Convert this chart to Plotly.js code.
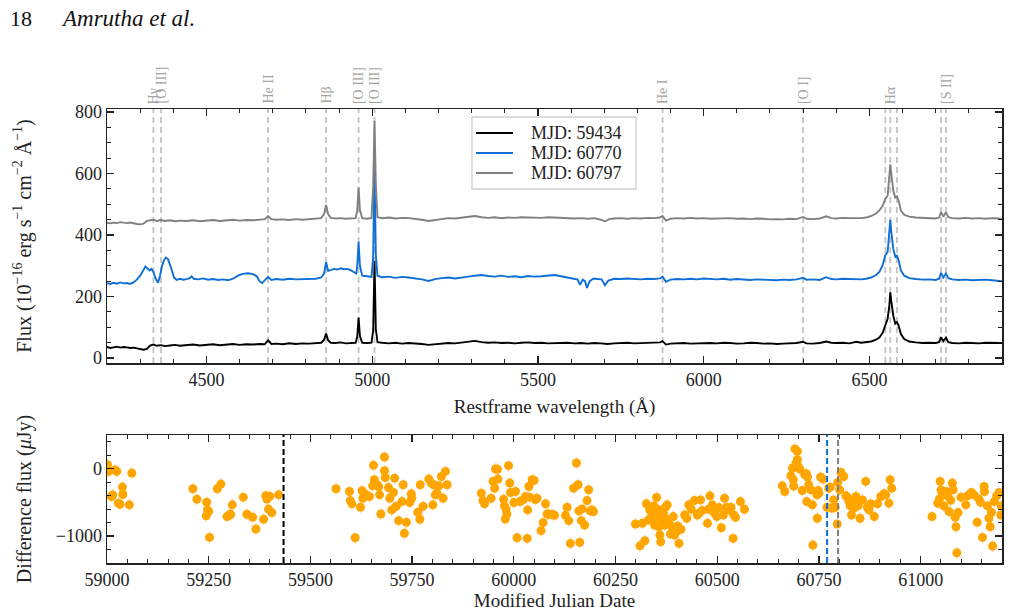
<!DOCTYPE html>
<html>
<head>
<meta charset="utf-8">
<script src="https://cdn.plot.ly/plotly-3.0.1.min.js"></script>
<style>
  html, body { margin: 0; padding: 0; background: #fff; }
  #chart { width: 1010px; height: 615px; }
</style>
</head>
<body>
<div id="chart"></div>
<script>
// ---- Spectra: [restframe wavelength (Å), flux (1e-16 erg/s/cm^2/Å)] ----
const spec59434 = [
  [4200,36],[4210,33],[4220,35],[4230,37],[4240,34],[4250,36],[4260,35],[4270,33],[4280,34],[4290,31],
  [4300,29],[4310,27],[4320,30],[4330,41],[4340,44],[4350,40],[4363,42],[4375,39],[4390,41],[4405,43],
  [4420,40],[4440,42],[4460,44],[4480,41],[4500,43],[4520,45],[4540,42],[4560,44],[4580,46],[4600,43],
  [4620,45],[4640,44],[4660,46],[4676,45],[4686,58],[4696,46],[4710,47],[4730,45],[4750,48],[4770,46],
  [4790,48],[4810,47],[4830,49],[4846,50],[4855,60],[4861,80],[4867,58],[4875,50],[4890,49],[4905,51],
  [4920,48],[4935,50],[4950,50],[4955,70],[4959,132],[4963,72],[4970,50],[4985,49],[4998,50],[5003,90],
  [5007,316],[5011,95],[5016,52],[5030,50],[5050,48],[5070,50],[5090,47],[5110,49],[5130,48],[5150,46],
  [5170,43],[5190,45],[5210,47],[5230,49],[5250,48],[5270,51],[5290,54],[5310,56],[5330,52],[5350,50],
  [5370,51],[5390,49],[5410,50],[5430,48],[5450,50],[5470,51],[5490,49],[5510,50],[5530,48],[5550,49],
  [5570,51],[5590,50],[5610,48],[5630,49],[5650,47],[5670,49],[5690,48],[5710,46],[5730,48],[5750,49],
  [5770,50],[5790,48],[5810,49],[5830,50],[5850,49],[5868,51],[5876,55],[5886,44],[5900,47],[5920,48],
  [5940,49],[5960,47],[5980,48],[6000,50],[6020,49],[6040,48],[6060,50],[6080,49],[6100,47],[6120,48],
  [6140,50],[6160,49],[6180,47],[6200,48],[6220,46],[6240,47],[6260,48],[6280,49],[6300,53],[6310,48],
  [6330,47],[6350,49],[6370,54],[6385,50],[6400,49],[6420,50],[6440,48],[6460,53],[6475,50],[6490,51],
  [6505,54],[6520,60],[6530,67],[6540,82],[6548,110],[6555,128],[6560,170],[6563,214],[6566,185],[6572,138],
  [6578,112],[6583,117],[6588,106],[6595,78],[6605,62],[6620,54],[6640,51],[6660,49],[6680,50],[6700,49],
  [6710,52],[6716,68],[6723,55],[6731,67],[6738,52],[6750,49],[6770,48],[6790,50],[6810,49],[6830,48],
  [6850,50],[6870,49],[6890,48],[6900,49]
];

const spec60770 = [
  [4200,244],[4210,241],[4220,245],[4230,242],[4240,246],[4250,243],[4260,244],[4270,241],[4280,246],[4290,255],
  [4300,268],[4310,290],[4316,298],[4322,292],[4328,285],[4334,290],[4340,280],[4347,258],[4354,245],[4360,268],
  [4366,300],[4372,318],[4378,327],[4384,322],[4390,305],[4396,285],[4402,262],[4410,254],[4420,258],[4430,255],
  [4440,257],[4450,260],[4455,266],[4462,258],[4475,256],[4490,259],[4505,255],[4520,257],[4535,254],[4550,256],
  [4565,253],[4580,258],[4595,268],[4610,274],[4625,276],[4640,273],[4652,266],[4660,250],[4668,244],[4676,252],
  [4686,264],[4696,254],[4710,257],[4730,255],[4750,258],[4770,256],[4790,257],[4810,259],[4830,258],[4846,262],
  [4855,275],[4861,312],[4867,284],[4875,286],[4885,290],[4895,288],[4905,292],[4915,289],[4925,290],[4935,286],
  [4945,280],[4952,275],[4955,300],[4959,378],[4963,300],[4970,268],[4985,266],[4998,264],[5003,330],[5007,628],
  [5011,335],[5016,268],[5030,263],[5050,265],[5070,261],[5090,264],[5110,262],[5130,260],[5150,256],[5170,251],
  [5190,257],[5210,260],[5230,262],[5250,259],[5270,263],[5290,265],[5310,268],[5330,270],[5350,267],[5370,265],
  [5390,268],[5410,264],[5430,266],[5450,263],[5470,267],[5490,265],[5510,266],[5530,268],[5550,270],[5570,266],
  [5590,262],[5610,259],[5620,255],[5627,238],[5635,255],[5642,250],[5648,228],[5656,250],[5668,259],[5680,257],
  [5692,256],[5702,237],[5712,252],[5730,258],[5750,257],[5770,259],[5790,258],[5810,256],[5830,258],[5850,257],
  [5868,259],[5876,265],[5886,248],[5900,255],[5920,257],[5940,256],[5960,258],[5980,256],[6000,259],[6020,257],
  [6040,256],[6060,258],[6080,255],[6100,257],[6120,256],[6140,254],[6160,256],[6180,255],[6200,254],[6220,253],
  [6240,255],[6260,254],[6280,256],[6300,261],[6310,255],[6330,256],[6350,254],[6370,263],[6385,257],[6400,256],
  [6420,258],[6440,257],[6460,255],[6475,256],[6490,258],[6505,262],[6520,270],[6530,280],[6540,302],[6548,335],
  [6555,345],[6560,400],[6563,450],[6566,410],[6572,355],[6578,330],[6583,333],[6588,318],[6595,285],[6605,268],
  [6620,260],[6640,257],[6660,255],[6680,256],[6700,254],[6710,258],[6716,277],[6723,262],[6731,275],[6738,260],
  [6750,256],[6770,254],[6790,255],[6810,253],[6830,254],[6850,255],[6870,253],[6890,252],[6900,250]
];

const spec60797 = [
  [4200,440],[4210,438],[4220,441],[4230,439],[4240,442],[4250,440],[4260,439],[4270,441],[4280,438],[4290,436],
  [4300,435],[4310,437],[4320,446],[4330,448],[4340,450],[4350,446],[4363,449],[4375,446],[4390,448],[4405,445],
  [4420,447],[4440,446],[4460,448],[4480,445],[4500,447],[4520,449],[4540,446],[4560,448],[4580,450],[4600,447],
  [4620,449],[4640,448],[4660,450],[4676,452],[4686,462],[4696,452],[4710,450],[4730,451],[4750,449],[4770,452],
  [4790,450],[4810,451],[4830,452],[4846,455],[4855,468],[4861,498],[4867,468],[4875,456],[4890,454],[4905,455],
  [4920,453],[4935,454],[4950,455],[4955,480],[4959,555],[4963,482],[4970,455],[4985,453],[4998,456],[5003,560],
  [5007,772],[5011,565],[5016,458],[5030,455],[5050,457],[5070,454],[5090,456],[5110,455],[5130,453],[5150,450],
  [5170,446],[5190,449],[5210,452],[5230,455],[5250,454],[5270,457],[5290,460],[5310,462],[5330,458],[5350,456],
  [5370,458],[5390,455],[5410,457],[5430,456],[5450,458],[5470,457],[5490,455],[5510,456],[5530,458],[5550,457],
  [5570,455],[5590,456],[5610,454],[5630,455],[5650,453],[5670,455],[5690,450],[5702,444],[5715,452],[5730,454],
  [5750,455],[5770,453],[5790,455],[5810,454],[5830,456],[5850,455],[5868,457],[5876,462],[5886,447],[5900,453],
  [5920,455],[5940,454],[5960,456],[5980,454],[6000,455],[6020,453],[6040,454],[6060,456],[6080,455],[6100,453],
  [6120,454],[6140,452],[6160,454],[6180,453],[6200,451],[6220,452],[6240,451],[6260,453],[6280,452],[6300,459],
  [6310,453],[6330,452],[6350,454],[6370,461],[6385,455],[6400,454],[6420,456],[6440,455],[6460,454],[6475,455],
  [6490,457],[6505,462],[6520,470],[6530,480],[6540,495],[6548,518],[6555,528],[6560,585],[6563,630],[6566,600],
  [6572,545],[6578,522],[6583,526],[6588,512],[6595,480],[6605,466],[6620,460],[6640,457],[6660,456],[6680,455],
  [6700,454],[6710,457],[6716,475],[6723,460],[6731,474],[6738,458],[6750,455],[6770,454],[6790,456],[6810,454],
  [6830,455],[6850,453],[6870,455],[6890,454],[6900,452]
];

const spectrumLabels = ['MJD: 59434', 'MJD: 60770', 'MJD: 60797'];
const spectrumColors = ['#000000', '#0f6fd6', '#808080'];

// ---- Emission line markers: [wavelength, label] ----
const lineMarks = [
  [4340, 'Hγ'], [4363, '[O III]'], [4686, 'He II'], [4861, 'Hβ'],
  [4959, '[O III]'], [5007, '[O III]'], [5876, 'He I'], [6300, '[O I]'],
  [6548, ''], [6563, 'Hα'], [6583, ''], [6716, ''], [6731, '[S II]']
];

// ---- Light curve: [MJD, difference flux (µJy)] ----
const lightCurve = [
  [59001,60],[59002,-10],[59004,-40],[59011,-413],[59014,-390],[59020,-20],[59024,-40],[59028,-512],[59032,-527],
  [59038,-273],[59039,-383],[59055,-537],[59061,-65],
  [59211,-298],[59221,-453],[59244,-700],[59245,-497],[59247,-612],[59250,-637],[59252,-1020],[59271,-298],
  [59280,-229],[59295,-711],[59301,-687],[59304,-677],[59308,-537],[59335,-423],[59344,-677],[59358,-721],
  [59366,-896],[59385,-751],[59390,-403],[59393,-450],[59397,-600],[59400,-410],[59405,-652],[59422,-388],
  [59563,-298],[59596,-338],[59598,-473],[59602,-522],[59610,-1025],[59623,-572],[59627,-328],[59629,-438],
  [59635,-378],[59645,-413],[59655,50],[59657,-164],[59653,-254],[59664,-239],[59668,-269],[59670,-388],
  [59673,-672],[59682,174],[59682,-30],[59684,-130],[59692,-280],[59695,-438],[59700,-612],[59704,-353],
  [59707,-140],[59711,-557],[59717,-771],[59725,-488],[59728,-239],[59731,-960],[59736,-796],[59744,-503],
  [59748,-373],[59749,-438],[59764,-647],[59769,-751],[59770,-239],[59777,-557],[59791,-154],[59797,-214],
  [59801,-537],[59803,-239],[59807,-388],[59811,-363],[59816,-254],[59822,-115],[59826,-438],[59832,-40],
  [59836,-239],
  [59920,-363],[59924,-473],[59928,-522],[59944,-438],[59949,-189],[59953,-289],[59955,-5],[59960,-10],
  [59961,-154],[59975,-453],[59977,-552],[59979,-746],[59981,-602],[59983,-677],[59987,45],[59990,-214],
  [59992,-353],[60000,-503],[60004,-338],[60008,-1025],[60015,-488],[60023,-463],[60029,-413],[60033,-1035],
  [60034,-612],[60037,-264],[60039,-423],[60045,-164],[60050,-174],[60053,-458],[60057,-438],[60067,-920],
  [60072,-801],[60078,-522],[60082,-672],[60086,-677],[60094,-677],[60100,-692],[60127,-692],[60131,-572],
  [60135,-771],[60139,-1109],[60147,-289],[60154,85],[60158,-239],[60160,-627],[60162,-1094],[60166,-771],
  [60168,-597],[60174,-836],[60180,-473],[60184,-313],[60188,-627],[60192,-612],[60196,-637],
  [60299,-821],[60310,-1145],[60316,-811],[60322,-1070],[60326,-522],[60331,-761],[60334,-612],[60339,-687],
  [60342,-761],[60344,-552],[60346,-836],[60351,-428],[60353,-602],[60355,-711],[60357,-861],[60359,-985],
  [60361,-1085],[60364,-761],[60365,-612],[60368,-672],[60371,-836],[60373,-572],[60376,-751],[60377,-537],
  [60381,-811],[60385,-970],[60389,-861],[60392,-711],[60395,-985],[60400,-935],[60403,-851],[60406,-1109],
  [60411,-900],[60420,-687],[60425,-736],[60430,-537],[60436,-602],[60444,-473],[60451,-687],[60455,-662],
  [60459,-463],[60463,-622],[60476,-811],[60478,-602],[60482,-403],[60488,-537],[60492,-652],[60499,-711],
  [60504,-577],[60510,-876],[60515,-687],[60518,-438],[60523,-572],[60529,-612],[60534,-572],[60539,-1035],
  [60541,-687],[60545,-721],[60557,-488],[60567,-602],
  [60660,-254],[60666,-338],[60681,-104],[60685,10],[60687,-164],[60688,-259],[60691,294],[60694,84],
  [60697,259],[60697,134],[60699,35],[60703,-5],[60709,-323],[60715,-87],[60719,-74],[60720,-488],
  [60722,-125],[60725,-239],[60730,-313],[60734,-537],[60735,-1134],[60745,-388],[60746,-736],[60748,-323],
  [60750,-363],[60754,-125],[60760,-154],[60770,-572],[60774,-289],[60778,-274],[60782,-587],[60786,-463],
  [60790,-572],[60795,-821],[60796,-204],[60801,-313],[60804,-55],[60811,-115],[60816,-403],[60820,-423],
  [60824,-488],[60827,-552],[60830,-687],[60835,-587],[60841,-413],[60843,-473],[60846,-552],[60851,-736],
  [60857,-463],[60865,-189],[60869,-572],[60873,-612],[60877,-522],[60886,-711],[60894,-522],[60902,-413],
  [60910,-373],[60914,-388],[60922,-512],[60925,-164],[60929,-289],
  [61028,-711],[61042,-512],[61046,-448],[61048,-189],[61050,-318],[61054,-388],[61057,-552],[61062,-338],
  [61066,-403],[61070,-637],[61074,-468],[61078,-214],[61080,-313],[61085,-721],[61087,-861],[61089,-1249],
  [61092,-652],[61099,-423],[61111,-537],[61115,-403],[61125,-353],[61131,-388],[61139,-796],[61143,-448],
  [61147,-498],[61152,-1020],[61156,-264],[61157,-338],[61164,-552],[61168,-736],[61171,-861],[61174,-647],
  [61177,-1149],[61181,-488],[61187,-403],[61193,-353],[61197,-687],[61198,-552]
];

// Epochs of the three spectra, marked on the light curve
const spectrumEpochs = [59434, 60770, 60797];

const SERIF = '"Liberation Serif", "Times New Roman", serif';
const lineGray = '#c4c4c4';
const labelGray = '#a3a3a3';

const traces = [];
[spec59434, spec60770, spec60797].forEach((s, i) => {
  traces.push({
    type: 'scatter', mode: 'lines',
    x: s.map(p => p[0]), y: s.map(p => p[1]),
    name: spectrumLabels[i],
    line: { color: spectrumColors[i], width: 1.9 },
    showlegend: false,
    xaxis: 'x', yaxis: 'y'
  });
});
traces.push({
  type: 'scatter', mode: 'markers',
  x: lightCurve.map(p => p[0]), y: lightCurve.map(p => p[1]),
  marker: { color: '#ffa500', size: 9, line: { width: 0 } },
  error_y: { type: 'constant', value: 90, color: 'rgba(255,165,0,0.35)', thickness: 1.5, width: 0 },
  showlegend: false,
  xaxis: 'x2', yaxis: 'y2'
});

const shapes = [];
const annotations = [];
lineMarks.forEach(([wl, label]) => {
  shapes.push({
    type: 'line', xref: 'x', yref: 'y domain', x0: wl, x1: wl, y0: 0, y1: 1,
    line: { color: lineGray, width: 1.8, dash: '6px,4px' }, layer: 'below'
  });
  if (label) {
    annotations.push({
      x: wl, xref: 'x', y: 1, yref: 'paper', yanchor: 'bottom', xanchor: 'center',
      yshift: 3, textangle: -90, showarrow: false, text: label,
      font: { family: SERIF, size: 14, color: labelGray }
    });
  }
});
const epochColors = ['#000000', '#0f6fd6', '#808080'];
spectrumEpochs.forEach((mjd, i) => {
  shapes.push({
    type: 'line', xref: 'x2', yref: 'y2 domain', x0: mjd, x1: mjd, y0: 0, y1: 1,
    line: { color: epochColors[i], width: 2, dash: '6px,3px' }, layer: 'above'
  });
});

// Legend box for the spectra (paper coordinates of the plotting area)
const legendBox = { x0: 0.4078, x1: 0.5911, y0: 0.8238, y1: 0.9824 };
const legendRows = [0.9471, 0.9031, 0.8590];
shapes.push({
  type: 'rect', xref: 'paper', yref: 'paper',
  x0: legendBox.x0, x1: legendBox.x1, y0: legendBox.y0, y1: legendBox.y1,
  line: { color: '#d0d0d0', width: 1.3 }, fillcolor: 'rgba(255,255,255,0.9)', layer: 'above'
});
spectrumLabels.forEach((lab, i) => {
  shapes.push({
    type: 'line', xref: 'paper', yref: 'paper',
    x0: 0.4123, x1: 0.4536, y0: legendRows[i], y1: legendRows[i],
    line: { color: spectrumColors[i], width: 2 }, layer: 'above'
  });
  annotations.push({
    x: 0.4715, y: legendRows[i], xref: 'paper', yref: 'paper', xanchor: 'left', yanchor: 'middle',
    showarrow: false, text: lab, font: { family: SERIF, size: 18, color: '#222' }
  });
});

annotations.push(
  { x: -0.1106, y: 1.2, xref: 'paper', yref: 'paper', xanchor: 'left', yanchor: 'middle',
    showarrow: false, text: '18', font: { family: SERIF, size: 22, color: '#111' } },
  { x: -0.0536, y: 1.2, xref: 'paper', yref: 'paper', xanchor: 'left', yanchor: 'middle',
    showarrow: false, text: '<i>Amrutha et al.</i>', font: { family: SERIF, size: 23, color: '#111' } }
);

const axisCommon = {
  showline: true, linecolor: '#222', linewidth: 1.5, mirror: 'allticks',
  ticks: 'inside', ticklen: 7, tickwidth: 1.3, tickcolor: '#222',
  showgrid: false, zeroline: false,
  tickfont: { family: SERIF, size: 18, color: '#222' },
  minor: { ticks: 'inside', ticklen: 4, tickwidth: 1, tickcolor: '#222', showgrid: false }
};

const layout = {
  width: 1010, height: 615,
  margin: { l: 107, r: 8, t: 109, b: 52 },
  paper_bgcolor: '#fff', plot_bgcolor: '#fff',
  font: { family: SERIF, color: '#222' },
  showlegend: false,
  xaxis: Object.assign({}, axisCommon, {
    domain: [0, 1], anchor: 'y', range: [4200, 6900], tick0: 0, dtick: 500,
    minor: Object.assign({}, axisCommon.minor, { dtick: 100 }),
    title: { text: 'Restframe wavelength (Å)', font: { family: SERIF, size: 19 }, standoff: 10 }
  }),
  yaxis: Object.assign({}, axisCommon, {
    domain: [0.4405, 1], anchor: 'x', range: [-16, 810], tick0: 0, dtick: 200,
    minor: Object.assign({}, axisCommon.minor, { dtick: 50 }),
    title: { text: 'Flux (10<sup>−16</sup> erg s<sup>−1</sup> cm<sup>−2</sup> Å<sup>−1</sup>)',
             font: { family: SERIF, size: 20 }, standoff: 38 }
  }),
  xaxis2: Object.assign({}, axisCommon, {
    domain: [0, 1], anchor: 'y2', range: [59000, 61200], tick0: 59000, dtick: 250,
    tickformat: 'd',
    minor: Object.assign({}, axisCommon.minor, { dtick: 50 }),
    title: { text: 'Modified Julian Date', font: { family: SERIF, size: 19 }, standoff: 4 }
  }),
  yaxis2: Object.assign({}, axisCommon, {
    domain: [0, 0.2819], anchor: 'x2', range: [-1400, 500], tick0: 0, dtick: 1000,
    minor: Object.assign({}, axisCommon.minor, { dtick: 200 }),
    title: { text: 'Difference flux (<i>μ</i>Jy)', font: { family: SERIF, size: 20 }, standoff: 18 }
  }),
  shapes: shapes,
  annotations: annotations
};

Plotly.newPlot('chart', traces, layout, { displayModeBar: false, staticPlot: true });
</script>
</body>
</html>
